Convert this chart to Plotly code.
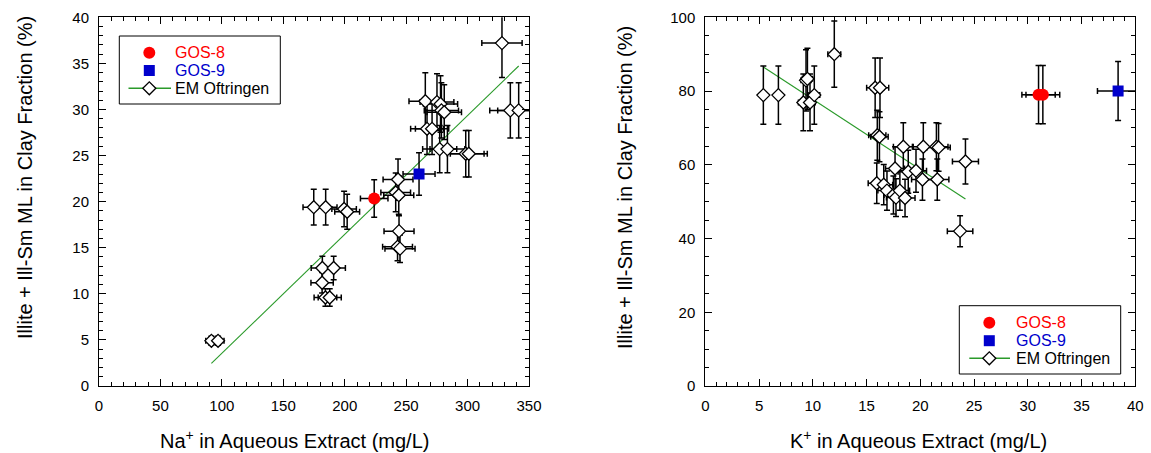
import plotly.graph_objects as go

# --- Na+ panel: EM Oftringen samples (Na+ mg/L, clay fraction %) ---
na_em = [91.5, 96.9, 174.8, 184.5, 199.5, 202.0, 243.4, 241.5, 244.0, 244.2,
         243.0, 245.0, 265.6, 275.1, 278.0, 278.7, 281.0, 267.0, 271.1, 277.3,
         283.6, 298.5, 301.0, 328.0, 334.8, 341.6, 181.8, 191.0, 181.6, 184.3,
         187.8]
clay_na_em = [4.9, 4.9, 19.4, 19.4, 19.2, 18.9, 22.4, 21.0, 20.7, 16.8,
              15.1, 14.9, 30.9, 30.8, 30.6, 29.9, 29.7, 27.9, 27.9, 25.7,
              25.7, 25.2, 25.2, 37.2, 29.9, 29.9, 12.8, 12.8, 11.2, 9.6,
              9.6]

# --- K+ panel: EM Oftringen samples (K+ mg/L, clay fraction %) ---
k_em = [5.4, 6.8, 9.37, 9.5, 9.12, 9.74, 10.14, 12.0, 15.8, 16.25,
        16.0, 16.2, 18.42, 20.28, 21.5, 21.7, 24.2, 23.7, 17.65, 18.88,
        19.6, 20.2, 21.58, 15.95, 16.6, 16.9, 17.5, 17.74, 18.1, 18.58]
clay_k_em = [78.9, 78.9, 82.9, 83.3, 76.9, 76.9, 78.9, 90.0, 80.9, 80.9,
             68.0, 67.6, 64.9, 64.9, 64.9, 64.7, 60.9, 42.0, 59.0, 58.1,
             58.4, 56.0, 56.0, 55.0, 54.6, 53.0, 51.8, 51.1, 53.0, 51.0]

# --- Gösgen samples ---
gos8_na = [224.0]
gos8_na_clay = [20.35]
gos9_na = [260.5]
gos9_na_clay = [23.0]

gos8_k = [31.0, 31.4]
gos8_k_clay = [79.0, 79.0]
gos9_k = [38.4]
gos9_k_clay = [80.0]

# Linear fits through the EM Oftringen data (slope, intercept)
fit_na = (0.129, -9.35)
fit_k = (-1.904, 96.8)

# Relative analytical uncertainties (%)
err_conc_pct = 5
err_clay_pct = 10

legend_labels = ["GOS-8", "GOS-9", "EM Oftringen"]
legend_colors = ["#ff0000", "#0000cc", "black"]

FONT = "Arial, Liberation Sans, sans-serif"
GREEN = "#2a9a2a"
RED = "#ff0000"
BLUE = "#0000cc"
W, H = 1151, 453

fig = go.Figure()

diamond = dict(symbol="diamond", size=10, color="white",
               line=dict(color="black", width=1.3))


def errs(pct):
    return dict(type="percent", value=pct, color="black", thickness=1.5, width=3)


def add_panel(xs, ys, fit, g8x, g8y, g9x, g9y, xa, ya):
    x0, x1 = min(xs), max(xs)
    fig.add_trace(go.Scatter(
        x=[x0, x1], y=[fit[0] * x0 + fit[1], fit[0] * x1 + fit[1]],
        mode="lines", line=dict(color=GREEN, width=1.1),
        xaxis=xa, yaxis=ya, showlegend=False, hoverinfo="skip"))
    fig.add_trace(go.Scatter(
        x=xs, y=ys, mode="markers", marker=diamond,
        error_x=errs(err_conc_pct), error_y=errs(err_clay_pct),
        xaxis=xa, yaxis=ya, showlegend=False))
    fig.add_trace(go.Scatter(
        x=g8x, y=g8y, mode="markers",
        marker=dict(symbol="circle", size=12, color=RED),
        error_x=errs(err_conc_pct), error_y=errs(err_clay_pct),
        xaxis=xa, yaxis=ya, showlegend=False))
    fig.add_trace(go.Scatter(
        x=g9x, y=g9y, mode="markers",
        marker=dict(symbol="square", size=11, color=BLUE),
        error_x=errs(err_conc_pct), error_y=errs(err_clay_pct),
        xaxis=xa, yaxis=ya, showlegend=False))


add_panel(na_em, clay_na_em, fit_na, gos8_na, gos8_na_clay, gos9_na, gos9_na_clay,
          "x", "y")
add_panel(k_em, clay_k_em, fit_k, gos8_k, gos8_k_clay, gos9_k, gos9_k_clay,
          "x2", "y2")


# Legend boxes, drawn on a full-figure overlay in pixel units
def add_legend(box, mark_x, rows, line_span, text_x):
    x0, y0, x1, y1 = box
    fig.add_shape(type="rect", xref="paper", yref="paper",
                  x0=x0 / W, x1=x1 / W, y0=1 - y0 / H, y1=1 - y1 / H,
                  line=dict(color="black", width=1), layer="above")
    fig.add_trace(go.Scatter(x=list(line_span), y=[rows[2], rows[2]], mode="lines",
                             line=dict(color=GREEN, width=1.5),
                             xaxis="x3", yaxis="y3", showlegend=False, hoverinfo="skip"))
    fig.add_trace(go.Scatter(x=[mark_x], y=[rows[0]], mode="markers",
                             marker=dict(symbol="circle", size=12, color=RED),
                             xaxis="x3", yaxis="y3", showlegend=False, hoverinfo="skip"))
    fig.add_trace(go.Scatter(x=[mark_x], y=[rows[1]], mode="markers",
                             marker=dict(symbol="square", size=11, color=BLUE),
                             xaxis="x3", yaxis="y3", showlegend=False, hoverinfo="skip"))
    fig.add_trace(go.Scatter(x=[mark_x], y=[rows[2]], mode="markers", marker=diamond,
                             xaxis="x3", yaxis="y3", showlegend=False, hoverinfo="skip"))
    for lab, col, ry in zip(legend_labels, legend_colors, rows):
        fig.add_annotation(text=lab, x=text_x / W, y=1 - ry / H, xref="paper", yref="paper",
                           xanchor="left", yanchor="middle", showarrow=False,
                           font=dict(family=FONT, size=16, color=col))


add_legend((119.3, 36, 280.3, 104), 149.3, (52.7, 70.5, 88.3), (128.5, 171), 173)
add_legend((959.3, 305.7, 1120.7, 374), 989.3, (322.7, 340.7, 358.3), (969.3, 1010), 1014)


def axis(rng, dtick, minor, domain, anchor):
    return dict(range=rng, dtick=dtick, tick0=0, domain=domain, anchor=anchor,
                ticks="inside", ticklen=7, tickwidth=1, tickcolor="black",
                minor=dict(dtick=minor, tick0=0, ticks="inside", ticklen=4,
                           tickwidth=1, tickcolor="black"),
                showline=True, linecolor="black", linewidth=1, mirror="allticks",
                showgrid=False, zeroline=False, ticklabelstandoff=6, automargin=False,
                tickfont=dict(family=FONT, size=15, color="black"))


py0, py1 = 1 - 386 / H, 1 - 17.3 / H
overlay = dict(domain=[0, 1], visible=False, showgrid=False, zeroline=False,
               automargin=False, fixedrange=True)
fig.update_layout(
    template="none",
    width=W, height=H, margin=dict(l=0, r=0, t=0, b=0, pad=0), autosize=False,
    paper_bgcolor="white", plot_bgcolor="rgba(0,0,0,0)",
    font=dict(family=FONT, size=15, color="black"),
    xaxis=axis([0, 350], 50, 10, [99 / W, 529 / W], "y"),
    yaxis=axis([0, 40], 5, 1, [py0, py1], "x"),
    xaxis2=axis([0, 40], 5, 1, [705.3 / W, 1135.3 / W], "y2"),
    yaxis2=axis([0, 100], 20, 5, [py0, py1], "x2"),
    xaxis3=dict(overlay, range=[0, W], anchor="y3"),
    yaxis3=dict(overlay, range=[H, 0], anchor="x3"),
    showlegend=False,
)

title_font = dict(family=FONT, size=20, color="black")
for txt, x, y, ang in [
    ("Illite + Ill-Sm ML in Clay Fraction (%)", 25, 178, -90),
    ("Illite + Ill-Sm ML in Clay Fraction (%)", 625, 188, -90),
    ("Na<sup>+</sup> in Aqueous Extract (mg/L)", 294, 439, 0),
    ("K<sup>+</sup> in Aqueous Extract (mg/L)", 919, 439, 0),
]:
    fig.add_annotation(text=txt, x=x / W, y=1 - y / H, xref="paper", yref="paper",
                       xanchor="center", yanchor="middle", textangle=ang,
                       showarrow=False, font=title_font)

fig.write_html("out.html")
